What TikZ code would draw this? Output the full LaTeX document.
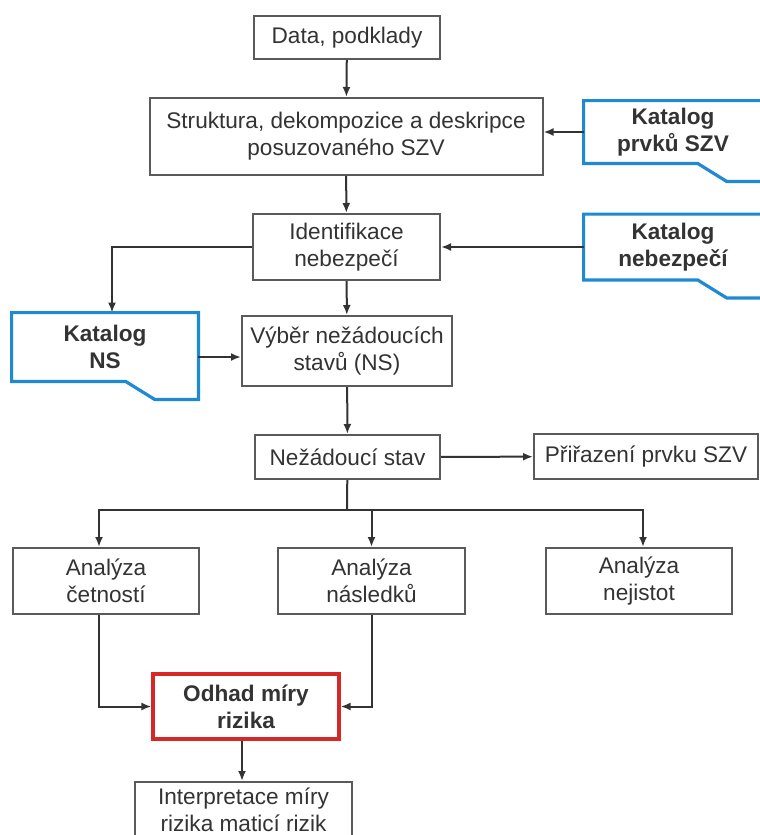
\documentclass[tikz,border=0pt]{standalone}
\usepackage{fontspec}
\setmainfont{Liberation Sans}
\usepackage{xcolor}
\definecolor{rtext}{RGB}{51,51,51}
\definecolor{rgray}{RGB}{90,90,90}
\definecolor{rblue}{RGB}{30,138,210}
\definecolor{rred}{RGB}{215,40,40}
\usetikzlibrary{arrows.meta, positioning, calc}

\begin{document}
\begin{tikzpicture}[
  x=0.5pt, y=-0.5pt,
  stepbox/.style={rectangle, draw=rgray, line width=1pt, fill=white,
                  font=\fontsize{11.3}{13.5}\selectfont, text=rtext,
                  align=center, inner sep=2pt},
  riskbox/.style={stepbox, draw=rred, line width=1.6pt, font=\fontsize{11.3}{13.5}\selectfont\bfseries},
  katalog/.style={rectangle, font=\fontsize{11.3}{13.5}\selectfont\bfseries,
                  text=rtext, align=center, inner sep=0pt},
  katline/.style={draw=rblue, line width=1.6pt, line join=miter},
  conn/.style={-{Latex[length=5pt,width=4pt]}, line width=1pt, draw=rtext}
]
\clip (0,0) rectangle (760,835);

% main chain
\node[stepbox, minimum width=93pt, minimum height=21.5pt]  (data)   at (347,37.5)  {Data, podklady};
\node[stepbox, minimum width=196.5pt, minimum height=38.5pt] (struk) at (346,136.5) {Struktura, dekompozice a deskripce\\posuzovaného SZV};
\node[stepbox, minimum width=93.5pt, minimum height=33pt]  (ident)  at (346.5,247) {Identifikace\\nebezpečí};
\node[stepbox, minimum width=105pt, minimum height=35pt]   (vyber)  at (347,351)   {Výběr nežádoucích\\stavů (NS)};
\node[stepbox, minimum width=92.5pt, minimum height=22pt]  (nezad)  at (347.5,457) {Nežádoucí stav};
\node[stepbox, minimum width=112pt, minimum height=22.5pt] (prir)   at (646,456.5) {Přiřazení prvku SZV};

% analyses
\node[stepbox, minimum width=93pt, minimum height=33pt]    (ancet)  at (106,581)   {Analýza\\četností};
\node[stepbox, minimum width=93.5pt, minimum height=33pt]  (annas)  at (371.5,581) {Analýza\\následků};
\node[stepbox, minimum width=93pt, minimum height=33pt]    (annej)  at (639,581)   {Analýza\\nejistot};

\node[riskbox, minimum width=93pt, minimum height=32.5pt]  (odhad)  at (246,706.5) {Odhad míry\\rizika};
\node[stepbox, minimum width=108.5pt, minimum height=28pt] (interp) at (243.5,810) {Interpretace míry\\rizika maticí rizik};

% catalogues
\node[katalog, minimum width=89pt, minimum height=31pt]    (katprv) at (673,132)   {Katalog\\prvků SZV};
\node[katalog, minimum width=89pt, minimum height=32.5pt]  (katneb) at (673,247) {Katalog\\nebezpečí};
\node[katalog, minimum width=93pt, minimum height=34pt]    (katns)  at (105,347)   {Katalog\\NS};

\foreach \k/\e in {katprv/8, katneb/8, katns/0}
  \draw[katline] (\k.north west) -- ($(\k.north east)+(\e,0)$)
    -- ($(\k.south east)+(\e,18)$) -- ($(\k.south west)+(143,18)$)
    -- ($(\k.south west)+(114,0)$) -- (\k.south west) -- cycle;

% connectors
\draw[conn] (data) -- (struk);
\draw[conn] (katprv.west) -- (katprv.west -| struk.east);
\draw[conn] (struk) -- (ident);
\draw[conn] (katneb.west) -- (katneb.west -| ident.east);
\draw[conn] (ident.west) -| ([xshift=3.5pt]katns.north);
\draw[conn] (ident) -- (vyber);
\draw[conn] ([yshift=-5pt]katns.east) -- ([yshift=-5pt]katns.east -| vyber.west);
\draw[conn] (vyber) -- (nezad);
\draw[conn] (nezad) -- (prir);

\coordinate (split) at (347,510);
\draw[line width=1pt, draw=rtext] (nezad) -- (split);
\draw[conn] (split) -| ([xshift=-3.5pt]ancet.north);
\draw[conn] (split -| annas) -- (annas);
\draw[conn] (split) -| ([xshift=2pt]annej.north);

\draw[conn] ([xshift=-3.5pt]ancet.south) |- (odhad.west);
\draw[conn] (annas.south) |- (odhad.east);
\draw[conn] ([xshift=-2pt]odhad.south) -- ([xshift=-2pt]odhad.south |- interp.north);
\end{tikzpicture}
\end{document}
